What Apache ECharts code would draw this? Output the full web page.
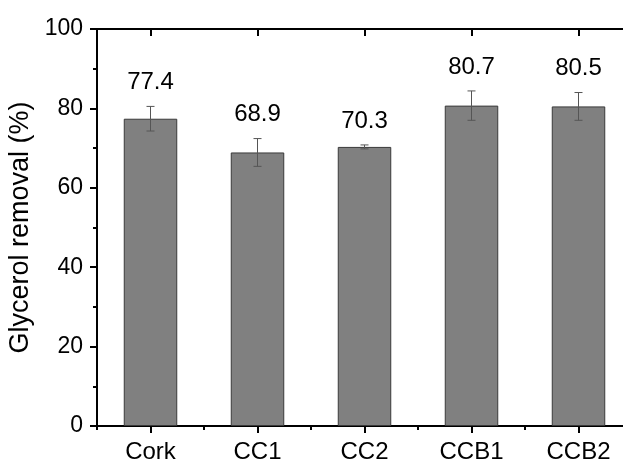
<!DOCTYPE html>
<html>
<head>
<meta charset="utf-8">
<script src="https://cdn.jsdelivr.net/npm/echarts@6/dist/echarts.min.js"></script>
<style>
html,body{margin:0;padding:0;background:#fff;}
#chart{width:623px;height:461px;}
</style>
</head>
<body>
<div id="chart"></div>
<script>
var categories = ['Cork', 'CC1', 'CC2', 'CCB1', 'CCB2'];
var removal = [77.4, 68.9, 70.3, 80.7, 80.5];
var errorBar = [3.1, 3.5, 0.5, 3.7, 3.5];
var yTicks = [0, 20, 40, 60, 80, 100];

var FONT = '"Liberation Sans", Arial, sans-serif';
var chart = echarts.init(document.getElementById('chart'), null, {renderer: 'canvas'});

var errData = categories.map(function (c, i) {
  return [i, removal[i] - errorBar[i], removal[i] + errorBar[i], removal[i]];
});

var option = {
  animation: false,
  backgroundColor: '#fff',
  grid: {left: 97, top: 29, width: 535, height: 397, containLabel: false, outerBoundsMode: 'none'},
  xAxis: [
    {
      type: 'category', data: categories, position: 'bottom',
      axisLine: {show: true, lineStyle: {color: '#000', width: 2}},
      axisTick: {show: true, alignWithLabel: true, inside: false, length: 7, lineStyle: {color: '#000', width: 2}},
      axisLabel: {show: true, color: '#000', fontSize: 24, fontFamily: FONT, margin: 14},
      splitLine: {show: false}
    },
    {
      type: 'category', data: categories, position: 'bottom',
      axisLine: {show: false},
      axisTick: {show: true, alignWithLabel: false, inside: false, length: 4, lineStyle: {color: '#000', width: 2}},
      axisLabel: {show: false},
      splitLine: {show: false}
    },
    {
      type: 'category', data: categories, position: 'top',
      axisLine: {show: true, lineStyle: {color: '#000', width: 2}},
      axisTick: {show: true, alignWithLabel: true, inside: true, length: 7, lineStyle: {color: '#000', width: 2}},
      axisLabel: {show: false},
      splitLine: {show: false}
    }
  ],
  yAxis: [
    {
      type: 'value', min: yTicks[0], max: yTicks[yTicks.length - 1], interval: 20,
      name: 'Glycerol removal (%)', nameLocation: 'middle', nameGap: 54,
      nameTextStyle: {color: '#000', fontSize: 27, fontFamily: FONT},
      axisLine: {show: true, lineStyle: {color: '#000', width: 2}},
      axisTick: {show: true, inside: false, length: 7, lineStyle: {color: '#000', width: 2}},
      minorTick: {show: true, splitNumber: 2, length: 4, lineStyle: {color: '#000', width: 2}},
      axisLabel: {color: '#000', fontSize: 23, fontFamily: FONT, margin: 14},
      splitLine: {show: false}
    }
  ],
  series: [
    {
      type: 'bar', data: removal, xAxisIndex: 0, yAxisIndex: 0,
      barWidth: '50%',
      itemStyle: {color: '#808080', borderColor: '#3a3a3a', borderWidth: 1}
    },
    {
      type: 'custom', xAxisIndex: 0, yAxisIndex: 0, data: errData, z: 10,
      renderItem: function (params, api) {
        var x = api.value(0);
        var lo = api.coord([x, api.value(1)]);
        var hi = api.coord([x, api.value(2)]);
        var cap = 4;
        var st = {stroke: '#555', lineWidth: 1};
        return {
          type: 'group',
          children: [
            {type: 'line', shape: {x1: lo[0], y1: lo[1], x2: hi[0], y2: hi[1]}, style: st},
            {type: 'line', shape: {x1: lo[0] - cap, y1: lo[1], x2: lo[0] + cap, y2: lo[1]}, style: st},
            {type: 'line', shape: {x1: hi[0] - cap, y1: hi[1], x2: hi[0] + cap, y2: hi[1]}, style: st},
            {type: 'text', x: hi[0], y: hi[1] - 24,
             style: {text: api.value(3).toFixed(1), fill: '#000', fontSize: 24, fontFamily: FONT,
                     align: 'center', verticalAlign: 'middle'}}
          ]
        };
      }
    }
  ]
};
chart.setOption(option);
</script>
</body>
</html>
